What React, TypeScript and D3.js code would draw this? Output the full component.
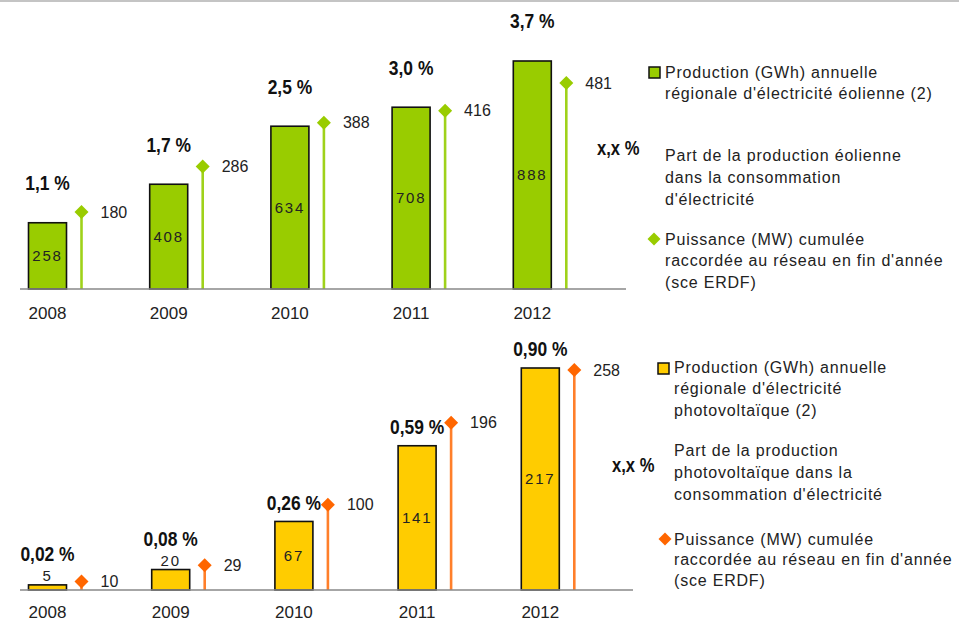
import * as d3 from "d3";

const years = ["2008", "2009", "2010", "2011", "2012"];

// éolien
const windProduction = [258, 408, 634, 708, 888];
const windShare = ["1,1 %", "1,7 %", "2,5 %", "3,0 %", "3,7 %"];
const windPower = [180, 286, 388, 416, 481];

// photovoltaïque
const solarProduction = [5, 20, 67, 141, 217];
const solarShare = ["0,02 %", "0,08 %", "0,26 %", "0,59 %", "0,90 %"];
const solarPower = [10, 29, 100, 196, 258];

const windLegend = [
  ["Production (GWh) annuelle", "régionale d'électricité éolienne (2)"],
  ["Part de la production éolienne", "dans la consommation", "d'électricité"],
  ["Puissance (MW) cumulée", "raccordée au réseau en fin d'année", "(sce ERDF)"],
];
const solarLegend = [
  ["Production (GWh) annuelle", "régionale d'électricité", "photovoltaïque (2)"],
  ["Part de la production", "photovoltaïque dans la", "consommation d'électricité"],
  ["Puissance (MW) cumulée", "raccordée au réseau en fin d'année", "(sce ERDF)"],
];

const FONT = "'Liberation Sans', Arial, sans-serif";

type PanelProps = {
  production: number[];
  share: string[];
  power: number[];
  base: number;
  xRange: [number, number];
  axisEnd: number;
  prodTop: number;
  powerTop: number;
  barFill: string;
  lineColor: string;
  diamondColor: string;
  pctOffset: number;
  smallPctOffset: number;
  yearY: number;
};

function diamond(cx: number, cy: number, r: number) {
  return `M${cx},${cy - r}L${cx + r},${cy}L${cx},${cy + r}L${cx - r},${cy}Z`;
}

// bold condensed label (the original uses a narrow bold face)
function Narrow({ x, y, children, size = 21, anchor = "middle" }: { x: number; y: number; children: string; size?: number; anchor?: string }) {
  return (
    <text
      transform={`translate(${x},${y}) scale(0.83,1)`}
      dy="0.35em"
      textAnchor={anchor}
      fontWeight={700}
      fontSize={size}
      fill="#111"
    >
      {children}
    </text>
  );
}

function Panel(p: PanelProps) {
  const x = d3.scaleBand().domain(years).range(p.xRange);
  const yProd = d3.scaleLinear().domain([0, d3.max(p.production) || 1]).range([p.base, p.prodTop]);
  const yPow = d3.scaleLinear().domain([0, d3.max(p.power) || 1]).range([p.base, p.powerTop]);
  const barOff = 8.5;
  const barW = 38;
  const lineOff = barOff + 53;

  return (
    <g>
      {years.map((yr, i) => {
        const gx = x(yr) ?? 0;
        const bx = gx + barOff;
        const top = yProd(p.production[i]);
        const h = p.base - top;
        const small = h < 26;
        const lx = gx + lineOff;
        const py = yPow(p.power[i]);
        return (
          <g key={yr}>
            <rect x={bx} y={top} width={barW} height={h} fill={p.barFill} stroke="#111" strokeWidth={1.6} />
            <text
              x={bx + barW / 2}
              y={small ? top - 9 : top + h / 2}
              dy="0.35em"
              textAnchor="middle"
              fontSize={15}
              letterSpacing={1.8}
              fill="#222"
            >
              {p.production[i]}
            </text>
            <Narrow x={bx + barW / 2} y={small ? top - p.smallPctOffset : top - p.pctOffset}>
              {p.share[i]}
            </Narrow>
            <line x1={lx} x2={lx} y1={p.base} y2={py} stroke={p.lineColor} strokeWidth={2.6} />
            <path d={diamond(lx, py, 7)} fill={p.diamondColor} />
            <text x={lx + 19} y={py} dy="0.35em" fontSize={16} fill="#222">
              {p.power[i]}
            </text>
            <text x={bx + barW / 2} y={p.yearY} dy="0.35em" textAnchor="middle" fontSize={17} fill="#222">
              {yr}
            </text>
          </g>
        );
      })}
      <line x1={p.xRange[0]} x2={p.axisEnd} y1={p.base} y2={p.base} stroke="#888" strokeWidth={1.5} />
    </g>
  );
}

type LegendProps = {
  items: string[][];
  textX: number;
  lineYs: number[][];
  square: [number, number];
  diamondAt: [number, number];
  pctAt: [number, number];
  barFill: string;
  diamondColor: string;
};

function Legend(l: LegendProps) {
  return (
    <g fontSize={16} fill="#222">
      <rect x={l.square[0]} y={l.square[1]} width={11} height={11} fill={l.barFill} stroke="#111" strokeWidth={1.5} />
      <path d={diamond(l.diamondAt[0], l.diamondAt[1], 6.5)} fill={l.diamondColor} />
      <Narrow x={l.pctAt[0]} y={l.pctAt[1]} size={20} anchor="start">
        x,x %
      </Narrow>
      {l.items.map((lines, i) =>
        lines.map((t, j) => (
          <text key={`${i}-${j}`} x={l.textX} y={l.lineYs[i][j]} dy="0.35em" letterSpacing={0.8}>
            {t}
          </text>
        ))
      )}
    </g>
  );
}

export default function App() {
  return (
    <svg
      width={959}
      height={622}
      style={{ position: "absolute", left: 0, top: 0, background: "#fff" }}
      fontFamily={FONT}
    >
      <rect x={0} y={0} width={959} height={2} fill="#c4c4c4" />
      <Panel
        production={windProduction}
        share={windShare}
        power={windPower}
        base={289}
        xRange={[20, 626]}
        axisEnd={626}
        prodTop={61}
        powerTop={83}
        barFill="#99cc00"
        lineColor="#9fd21a"
        diamondColor="#99cc00"
        pctOffset={40}
        smallPctOffset={40}
        yearY={313}
      />
      <Legend
        items={windLegend}
        textX={665}
        lineYs={[[72, 93], [155, 177, 199], [239, 260, 282]]}
        square={[649, 67]}
        diamondAt={[654, 239]}
        pctAt={[597, 148]}
        barFill="#99cc00"
        diamondColor="#99cc00"
      />
      <Panel
        production={solarProduction}
        share={solarShare}
        power={solarPower}
        base={590}
        xRange={[20, 636]}
        axisEnd={633}
        prodTop={368}
        powerTop={370}
        barFill="#ffcc00"
        lineColor="#ff7f2a"
        diamondColor="#ff6600"
        pctOffset={19}
        smallPctOffset={31}
        yearY={612}
      />
      <Legend
        items={solarLegend}
        textX={674}
        lineYs={[[367, 388, 410], [450, 472, 494], [539, 559, 580]]}
        square={[658, 363]}
        diamondAt={[665, 539]}
        pctAt={[612, 465]}
        barFill="#ffcc00"
        diamondColor="#ff6600"
      />
    </svg>
  );
}
